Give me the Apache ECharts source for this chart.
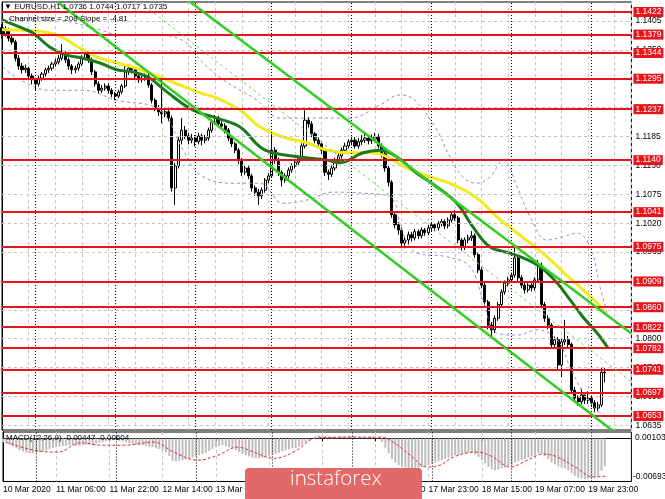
<!DOCTYPE html>
<html><head><meta charset="utf-8">
<script src="https://cdn.jsdelivr.net/npm/echarts/dist/echarts.min.js"></script>
<style>html,body{margin:0;padding:0;background:#fff}#c{width:665px;height:499px}</style>
</head><body><div id="c"></div>
<script>
// ---- data ----
const tickLabels = [[0,'10 Mar 2020'],[16,'11 Mar 06:00'],[32,'11 Mar 22:00'],[48,'12 Mar 14:00'],[64,'13 Mar 06:00'],[80,'13 Mar 22:00'],[96,'16 Mar 15:00'],[112,'17 Mar 07:00'],[128,'17 Mar 23:00'],[144,'18 Mar 15:00'],[160,'19 Mar 07:00'],[176,'19 Mar 23:00']];
const daySeparators = [10,34,58,81,105,129,153,177];
const priceTicks = [1.0635,1.0690,1.0745,1.0800,1.0855,1.0910,1.0965,1.1020,1.1075,1.1130,1.1185,1.1240,1.1295,1.1350,1.1405];
const levels = [1.1422,1.1379,1.1344,1.1295,1.1237,1.1140,1.1041,1.0975,1.0909,1.0860,1.0822,1.0782,1.0741,1.0697,1.0653];
const lastPrice = 1.0735;
// [open, close, low, high]
const candles = [
[1.1392,1.1380,1.1372,1.1399],[1.1380,1.1388,1.1375,1.1395],[1.1388,1.1372,1.1366,1.1392],[1.1372,1.1365,1.1360,1.1380],
[1.1365,1.1334,1.1328,1.1369],[1.1334,1.1319,1.1312,1.1340],[1.1319,1.1312,1.1305,1.1325],[1.1312,1.1315,1.1306,1.1322],
[1.1315,1.1300,1.1294,1.1318],[1.1300,1.1293,1.1284,1.1305],[1.1293,1.1285,1.1273,1.1297],[1.1285,1.1296,1.1280,1.1301],
[1.1296,1.1304,1.1291,1.1308],[1.1304,1.1312,1.1299,1.1316],[1.1312,1.1315,1.1306,1.1320],[1.1315,1.1323,1.1310,1.1327],
[1.1323,1.1327,1.1318,1.1333],[1.1327,1.1334,1.1322,1.1340],[1.1334,1.1342,1.1330,1.1361],[1.1342,1.1331,1.1325,1.1348],
[1.1331,1.1319,1.1312,1.1335],[1.1319,1.1312,1.1304,1.1323],[1.1312,1.1315,1.1306,1.1320],[1.1315,1.1323,1.1310,1.1327],
[1.1323,1.1334,1.1319,1.1340],[1.1334,1.1342,1.1330,1.1350],[1.1342,1.1331,1.1325,1.1346],[1.1331,1.1308,1.1302,1.1335],
[1.1308,1.1285,1.1280,1.1312],[1.1285,1.1273,1.1266,1.1290],[1.1273,1.1277,1.1268,1.1283],[1.1277,1.1281,1.1272,1.1286],
[1.1281,1.1273,1.1267,1.1286],[1.1273,1.1266,1.1260,1.1277],[1.1266,1.1262,1.1254,1.1270],[1.1262,1.1270,1.1258,1.1274],
[1.1270,1.1281,1.1266,1.1285],[1.1281,1.1308,1.1277,1.1320],[1.1308,1.1315,1.1302,1.1322],[1.1315,1.1312,1.1305,1.1319],
[1.1312,1.1300,1.1294,1.1316],[1.1300,1.1293,1.1287,1.1304],[1.1293,1.1296,1.1288,1.1302],[1.1296,1.1300,1.1291,1.1305],
[1.1300,1.1283,1.1278,1.1304],[1.1283,1.1254,1.1248,1.1287],[1.1254,1.1239,1.1233,1.1258],[1.1239,1.1232,1.1224,1.1245],
[1.1232,1.1228,1.1210,1.1300],[1.1228,1.1232,1.1222,1.1238],[1.1232,1.1220,1.1214,1.1240],[1.1220,1.1087,1.1080,1.1225],
[1.1087,1.1129,1.1055,1.1135],[1.1129,1.1178,1.1124,1.1185],[1.1178,1.1197,1.1170,1.1220],[1.1197,1.1186,1.1180,1.1205],
[1.1186,1.1178,1.1170,1.1192],[1.1178,1.1182,1.1172,1.1190],[1.1182,1.1175,1.1166,1.1188],[1.1175,1.1186,1.1170,1.1192],
[1.1186,1.1178,1.1168,1.1190],[1.1178,1.1182,1.1172,1.1188],[1.1182,1.1197,1.1177,1.1202],[1.1197,1.1212,1.1192,1.1218],
[1.1212,1.1220,1.1207,1.1226],[1.1220,1.1209,1.1203,1.1224],[1.1209,1.1205,1.1198,1.1214],[1.1205,1.1197,1.1191,1.1210],
[1.1197,1.1182,1.1176,1.1201],[1.1182,1.1171,1.1165,1.1187],[1.1171,1.1159,1.1153,1.1175],[1.1159,1.1140,1.1133,1.1163],
[1.1140,1.1117,1.1110,1.1144],[1.1117,1.1125,1.1112,1.1130],[1.1125,1.1110,1.1104,1.1129],[1.1110,1.1087,1.1080,1.1114],
[1.1087,1.1079,1.1072,1.1092],[1.1079,1.1072,1.1055,1.1085],[1.1072,1.1083,1.1066,1.1088],[1.1083,1.1102,1.1078,1.1106],
[1.1102,1.1110,1.1096,1.1115],[1.1110,1.1159,1.1106,1.1194],[1.1159,1.1140,1.1133,1.1165],[1.1140,1.1117,1.1110,1.1145],
[1.1117,1.1102,1.1090,1.1121],[1.1102,1.1110,1.1097,1.1115],[1.1110,1.1121,1.1105,1.1126],[1.1121,1.1129,1.1116,1.1134],
[1.1129,1.1136,1.1124,1.1141],[1.1136,1.1144,1.1131,1.1149],[1.1144,1.1167,1.1139,1.1172],[1.1167,1.1216,1.1162,1.1235],
[1.1216,1.1209,1.1202,1.1222],[1.1209,1.1190,1.1184,1.1214],[1.1190,1.1178,1.1172,1.1194],[1.1178,1.1171,1.1164,1.1183],
[1.1171,1.1159,1.1152,1.1175],[1.1159,1.1117,1.1110,1.1163],[1.1117,1.1113,1.1102,1.1122],[1.1113,1.1125,1.1108,1.1130],
[1.1125,1.1140,1.1120,1.1145],[1.1140,1.1148,1.1135,1.1153],[1.1148,1.1159,1.1143,1.1164],[1.1159,1.1167,1.1154,1.1173],
[1.1167,1.1175,1.1162,1.1180],[1.1175,1.1178,1.1168,1.1186],[1.1178,1.1167,1.1162,1.1184],[1.1167,1.1175,1.1162,1.1182],
[1.1175,1.1178,1.1169,1.1188],[1.1178,1.1182,1.1173,1.1190],[1.1182,1.1177,1.1170,1.1188],[1.1177,1.1180,1.1171,1.1189],
[1.1180,1.1184,1.1174,1.1192],[1.1184,1.1167,1.1162,1.1190],[1.1167,1.1152,1.1145,1.1172],[1.1152,1.1125,1.1118,1.1157],
[1.1125,1.1098,1.1090,1.1130],[1.1098,1.1036,1.1030,1.1102],[1.1036,1.1017,1.1010,1.1042],[1.1017,1.1007,1.0998,1.1022],
[1.1007,1.0982,1.0975,1.1012],[1.0982,1.0988,1.0972,1.0993],[1.0988,1.0998,1.0980,1.1004],[1.0998,1.0992,1.0985,1.1003],
[1.0992,1.1004,1.0987,1.1009],[1.1004,1.0996,1.0990,1.1008],[1.0996,1.1007,1.0991,1.1012],[1.1007,1.1002,1.0996,1.1011],
[1.1002,1.1011,1.0997,1.1016],[1.1011,1.1017,1.1005,1.1022],[1.1017,1.1011,1.1005,1.1020],[1.1011,1.1019,1.1006,1.1024],
[1.1019,1.1023,1.1014,1.1028],[1.1023,1.1015,1.1009,1.1027],[1.1015,1.1026,1.1010,1.1031],[1.1026,1.1036,1.1021,1.1041],
[1.1036,1.1030,1.1024,1.1045],[1.1030,1.0988,1.0982,1.1034],[1.0988,1.0974,1.0968,1.0992],[1.0974,1.0988,1.0969,1.0993],
[1.0988,1.0992,1.0982,1.0998],[1.0992,1.0996,1.0986,1.1005],[1.0996,1.0960,1.0954,1.1000],[1.0960,1.0931,1.0925,1.0965],
[1.0931,1.0902,1.0896,1.0936],[1.0902,1.0870,1.0863,1.0906],[1.0870,1.0826,1.0818,1.0874],[1.0826,1.0817,1.0803,1.0832],
[1.0817,1.0839,1.0811,1.0844],[1.0839,1.0865,1.0834,1.0870],[1.0865,1.0889,1.0860,1.0894],[1.0889,1.0906,1.0884,1.0911],
[1.0906,1.0912,1.0900,1.0918],[1.0912,1.0921,1.0906,1.0926],[1.0921,1.0954,1.0916,1.0976],[1.0954,1.0916,1.0910,1.0958],
[1.0916,1.0902,1.0896,1.0921],[1.0902,1.0893,1.0886,1.0907],[1.0893,1.0902,1.0888,1.0907],[1.0902,1.0897,1.0890,1.0906],
[1.0897,1.0912,1.0892,1.0917],[1.0912,1.0940,1.0907,1.0950],[1.0940,1.0865,1.0858,1.0945],[1.0865,1.0839,1.0832,1.0870],
[1.0839,1.0826,1.0818,1.0845],[1.0826,1.0789,1.0782,1.0830],[1.0789,1.0798,1.0784,1.0804],[1.0798,1.0750,1.0742,1.0803],
[1.0750,1.0794,1.0727,1.0800],[1.0794,1.0798,1.0788,1.0836],[1.0798,1.0789,1.0782,1.0805],[1.0789,1.0702,1.0696,1.0793],
[1.0702,1.0687,1.0680,1.0708],[1.0687,1.0680,1.0672,1.0692],[1.0680,1.0693,1.0675,1.0705],[1.0693,1.0683,1.0676,1.0698],
[1.0683,1.0687,1.0676,1.0700],[1.0687,1.0678,1.0670,1.0692],[1.0678,1.0668,1.0660,1.0683],[1.0668,1.0674,1.0662,1.0680],
[1.0674,1.0736,1.0670,1.0745],[1.0736,1.0735,1.0717,1.0744]
];
const maSlow = [[0,1.1388],[14.4,1.1382],[24.3,1.1350],[29.4,1.1334],[39.3,1.1317],[49.5,1.1293],[59.5,1.1268],[64.6,1.1258],[71.5,1.1235],[77.5,1.1203],[84.4,1.1184],[91.6,1.1173],[97.6,1.1159],[104.5,1.1154],[111.4,1.1154],[115.6,1.1146],[121.6,1.1125],[128.5,1.1108],[133.6,1.1098],[140.5,1.1077],[144.4,1.1058],[148.6,1.1032],[153.5,1.1007],[158.6,1.0982],[163.7,1.0956],[168.5,1.0927],[173.6,1.0898],[178.7,1.0868],[181,1.0851]];
const maFast = [[0,1.1407],[5.4,1.1393],[9.3,1.1382],[14.4,1.1355],[19.5,1.1340],[24.3,1.1334],[29.4,1.1325],[34.5,1.1312],[39.3,1.1308],[44.4,1.1296],[49.5,1.1270],[57.4,1.1235],[64.6,1.1220],[71.5,1.1203],[77.5,1.1165],[81.4,1.1154],[89.5,1.1146],[97.6,1.1140],[101.5,1.1135],[108.4,1.1154],[113.5,1.1159],[118.6,1.1146],[124.6,1.1115],[130.6,1.1089],[136.6,1.1058],[141.4,1.1013],[146.5,1.0975],[152.6,1.0963],[156.5,1.0954],[161.6,1.0937],[166.7,1.0906],[170.6,1.0874],[174.5,1.0841],[178.7,1.0811],[182,1.0782]];
const bandUpper = [[0.3,1.1407],[11.4,1.1411],[20.4,1.1403],[29.4,1.1388],[35.4,1.1378],[47.4,1.1378],[55,1.1365],[59.5,1.1331],[66.4,1.1293],[76.6,1.1254],[83.5,1.1220],[95.5,1.1220],[104.5,1.1220],[113.5,1.1245],[119.5,1.1264],[124,1.1254],[130.6,1.1197],[134.5,1.1146],[138.4,1.1108],[142.6,1.1096],[146.5,1.1108],[150.5,1.1140],[154.7,1.1089],[158.6,1.1032],[163.7,1.0988],[168.5,1.0994],[172.7,1.1001],[176.6,1.0975],[179.6,1.0898],[181.7,1.0849]];
const bandLower = [[0.3,1.1317],[5.4,1.1293],[14.4,1.1273],[24.3,1.1273],[34.5,1.1254],[47.4,1.1235],[54.4,1.1159],[59.5,1.1112],[69.4,1.1096],[77.5,1.1096],[84.4,1.1058],[91.6,1.1064],[99.4,1.1079],[108.4,1.1077],[116.5,1.1070],[120.4,1.1001],[124.6,1.0963],[133.6,1.0956],[140.5,1.0937],[144.4,1.0874],[148.6,1.0811],[154.7,1.0807],[160.7,1.0817],[166.7,1.0798],[170.6,1.0746],[174.5,1.0697],[178.7,1.0664],[181.7,1.0651]];
const channelUpper = [[56.5,1.1441],[189,1.0810]];
const channelLower = [[16.7,1.1441],[183.2,1.0626]];
const channelMid = [[41.3,1.1441],[189,1.0718]];
const macdHist = [
-0.0006,-0.0008,-0.0010,-0.0013,-0.0016,-0.0019,-0.0021,-0.0023,-0.0024,-0.0024,-0.0023,
-0.0022,-0.0021,-0.0019,-0.0017,-0.0015,-0.0014,-0.0013,-0.0012,-0.0012,
-0.0011,-0.0011,-0.0012,-0.0012,-0.0011,-0.0010,-0.0010,-0.0011,-0.0009,
-0.0007,-0.0006,-0.0005,-0.0004,-0.0003,-0.0003,-0.0004,-0.0005,-0.0006,
-0.0008,-0.0009,-0.0010,-0.0011,-0.0011,-0.0012,-0.0013,
-0.0014,-0.0016,-0.0017,-0.0019,-0.0022,-0.0028,-0.0036,-0.0037,-0.0036,
-0.0035,-0.0034,-0.0033,-0.0031,-0.0029,-0.0027,-0.0025,-0.0023,-0.0020,-0.0017,-0.0014,
-0.0012,-0.0011,-0.0012,-0.0014,-0.0016,-0.0019,-0.0022,-0.0025,-0.0027,
-0.0029,-0.0031,-0.0032,-0.0032,-0.0031,-0.0029,-0.0028,-0.0026,-0.0025,
-0.0023,-0.0021,-0.0019,-0.0018,-0.0016,-0.0015,-0.0013,-0.0010,-0.0006,
-0.0003,0.0000,0.0003,0.0005,0.0005,0.0004,0.0003,0.0003,0.0002,0.0003,0.0003,0.0003,0.0004,0.0004,
0.0003,0.0003,0.0002,0.0002,0.0002,0.0002,0.0001,0.0001,
-0.0006,-0.0015,-0.0024,-0.0033,-0.0039,-0.0043,-0.0046,-0.0047,-0.0048,
-0.0048,-0.0048,-0.0047,-0.0046,-0.0045,-0.0043,-0.0041,-0.0039,-0.0037,-0.0035,-0.0033,-0.0031,-0.0029,
-0.0027,-0.0026,-0.0025,-0.0024,-0.0023,-0.0023,-0.0026,-0.0030,
-0.0035,-0.0040,-0.0046,-0.0050,-0.0051,-0.0050,-0.0048,-0.0047,-0.0045,-0.0043,
-0.0039,-0.0037,-0.0035,-0.0033,-0.0031,-0.0029,-0.0027,-0.0024,-0.0025,-0.0028,-0.0033,-0.0038,
-0.0042,-0.0045,-0.0047,-0.0048,-0.0051,-0.0056,-0.0060,-0.0063,-0.0064,-0.0065,-0.0065,
-0.0064,-0.0063,-0.0060,-0.0052,-0.00447
];
const macdSignal = [[0.9,-0.0006],[9.3,-0.0019],[16.5,-0.0022],[23.4,-0.0007],[29.4,-0.0011],[36.3,-0.0011],[45.3,-0.0006],[51.4,-0.0022],[58.6,-0.0035],[64.6,-0.0027],[70.6,-0.0014],[75.4,-0.0022],[81.4,-0.0032],[87.4,-0.0022],[94.6,0.0001],[104.5,0.0002],[113.5,0.0002],[116.5,-0.0003],[122.5,-0.0027],[127.6,-0.0046],[131.5,-0.0043],[135.4,-0.0030],[142.6,-0.0022],[147.4,-0.0030],[152.6,-0.0046],[157.7,-0.0035],[162.5,-0.0025],[166.7,-0.0030],[172.7,-0.0048],[177.4,-0.0062],[181.6,-0.00604]];
const macdRange = [-0.00693, 0.00103];

// ---- chart ----
const chart = echarts.init(document.getElementById('c'), null, {renderer:'canvas'});
const FONT = 'Liberation Sans, Arial, sans-serif';
const tickMap = new Map(tickLabels);
const tickIdx = tickLabels.map(t=>t[0]);
const grey = '#c4c4c4';
const xBase = {type:'value', min:0, max:189, interval:8};

const option = {
  backgroundColor:'#fff',
  animation:false,
  grid:[
    {left:2, right:33.6, top:2, height:428, show:true, borderColor:'#000', borderWidth:1},
    {left:2, right:33.6, top:432, height:49.5, show:true, borderColor:'#000', borderWidth:1}
  ],
  xAxis:[
    Object.assign({gridIndex:0, axisLine:{show:false}, axisTick:{show:false}, axisLabel:{show:false},
      splitLine:{show:true, lineStyle:{color:grey, type:[3,3], width:1}}}, xBase),
    Object.assign({gridIndex:1, axisLine:{show:true, lineStyle:{color:'#000'}},
      axisTick:{show:true, length:3, customValues:tickIdx, lineStyle:{color:'#000'}},
      axisLabel:{show:true, customValues:tickIdx, formatter:v=>tickMap.get(v)||'', align:'left', margin:4,
        fontSize:8.5, fontFamily:FONT, color:'#000'},
      splitLine:{show:true, lineStyle:{color:grey, type:[3,3], width:1}}}, xBase)
  ],
  yAxis:[
    {type:'value', gridIndex:0, position:'right', min:1.062627, max:1.144104, scale:true,
      axisLine:{show:true, lineStyle:{color:'#000'}},
      axisTick:{show:true, length:3, customValues:priceTicks, lineStyle:{color:'#000'}},
      axisLabel:{show:true, customValues:priceTicks, formatter:v=>v.toFixed(4), margin:4, fontSize:8.5, fontFamily:FONT, color:'#000'},
      splitLine:{show:false}},
    {type:'value', gridIndex:1, position:'right', min:macdRange[0], max:macdRange[1],
      axisLine:{show:true, lineStyle:{color:'#000'}}, axisTick:{show:false}, axisLabel:{show:false}, splitLine:{show:false}}
  ],
  series:[
    {type:'line', xAxisIndex:0, yAxisIndex:0, data:[], silent:true, z:1,
      markLine:{silent:true, symbol:'none', animation:false, precision:5, label:{show:false},
        lineStyle:{color:grey, type:[3,3], width:1},
        data:priceTicks.map(v=>({yAxis:v}))}},
    {type:'candlestick', xAxisIndex:0, yAxisIndex:0, z:2, barWidth:2.6,
      data:candles.map((c,i)=>[i,c[0],c[1],c[2],c[3]]),
      encode:{x:0, y:[1,2,3,4]},
      itemStyle:{color:'#fff', color0:'#000', borderColor:'#000', borderColor0:'#000', borderWidth:1},
      markLine:{silent:true, symbol:'none', animation:false, label:{show:false},
        lineStyle:{color:'#000', type:[1,2], width:1},
        data:daySeparators.map(v=>({xAxis:v}))}},
    {type:'line', xAxisIndex:0, yAxisIndex:0, data:bandUpper, smooth:0.4, showSymbol:false, z:3,
      lineStyle:{color:'#a87ed8', width:1, type:[3,3]}},
    {type:'line', xAxisIndex:0, yAxisIndex:0, data:bandLower, smooth:0.4, showSymbol:false, z:3,
      lineStyle:{color:'#a87ed8', width:1, type:[3,3]}},
    {type:'line', xAxisIndex:0, yAxisIndex:0, data:maSlow, smooth:0.4, showSymbol:false, z:4,
      lineStyle:{color:'#f3ea1e', width:3}},
    {type:'line', xAxisIndex:0, yAxisIndex:0, data:maFast, smooth:0.4, showSymbol:false, z:4,
      lineStyle:{color:'#1c7a1c', width:3}},
    {type:'line', xAxisIndex:0, yAxisIndex:0, data:channelUpper, showSymbol:false, z:5,
      lineStyle:{color:'#33cc22', width:2.5}},
    {type:'line', xAxisIndex:0, yAxisIndex:0, data:channelLower, showSymbol:false, z:5,
      lineStyle:{color:'#33cc22', width:2.5}},
    {type:'line', xAxisIndex:0, yAxisIndex:0, data:channelMid, showSymbol:false, z:5,
      lineStyle:{color:'#66dd55', width:1, type:[3,3]}},
    {type:'line', xAxisIndex:0, yAxisIndex:0, data:[], z:6,
      markLine:{silent:true, symbol:'none', animation:false, precision:5,
        lineStyle:{color:'#000', width:0, opacity:0},
        label:{show:true, position:'end', distance:2, formatter:p=>p.value.toFixed(4), color:'#fff', backgroundColor:'#000',
          padding:[1,2,0,2], fontSize:8.5, fontFamily:FONT},
        data:[{yAxis:lastPrice}]}},
    {type:'line', xAxisIndex:0, yAxisIndex:0, data:[], z:7,
      markLine:{silent:true, symbol:'none', animation:false, precision:5,
        lineStyle:{color:'#e8141b', width:2, type:'solid'},
        label:{show:true, position:'end', distance:2, formatter:p=>p.value.toFixed(4), color:'#fff', backgroundColor:'#e8141b',
          padding:[1,2,0,2], fontSize:8.5, fontFamily:FONT},
        data:levels.map(v=>({yAxis:v}))}},
    {type:'bar', xAxisIndex:1, yAxisIndex:1, data:macdHist.map((v,i)=>[i,v]), barWidth:2, z:2,
      itemStyle:{color:'#bdbdbd'},
      markLine:{silent:true, symbol:'none', animation:false, label:{show:false},
        lineStyle:{color:'#000', type:[1,2], width:1},
        data:daySeparators.map(v=>({xAxis:v}))}},
    {type:'line', xAxisIndex:1, yAxisIndex:1, data:macdSignal, smooth:0.4, showSymbol:false, z:3,
      lineStyle:{color:'#e03030', width:1, type:[3,2]}}
  ],
  graphic:[
    {type:'text', left:4, top:3, z:100, style:{text:'▼ EURUSD,H1 1.0736 1.0744 1.0717 1.0735', font:'8px '+FONT, fill:'#000'}},
    {type:'text', left:9, top:15, z:100, style:{text:'Channel size = 208 Slope = -4.81', font:'8px '+FONT, fill:'#000'}},
    {type:'text', left:6, top:434, z:100, style:{text:'MACD(12,26,9) -0.00447 -0.00604', font:'8px '+FONT, fill:'#000'}},
    {type:'text', left:635, top:433, z:100, style:{text:'0.00103', font:'8.5px '+FONT, fill:'#000'}},
    {type:'text', left:633, top:472, z:100, style:{text:'-0.00693', font:'8.5px '+FONT, fill:'#000'}},
    {type:'rect', shape:{x:245, y:468, width:177, height:40, r:4}, z:100, style:{fill:'#e36868'}},
    {type:'text', left:290, top:469, z:101, style:{text:'instaforex', font:'300 20.5px "Open Sans", sans-serif', fill:'#fff'}}
  ]
};
chart.setOption(option);
</script>
</body></html>
